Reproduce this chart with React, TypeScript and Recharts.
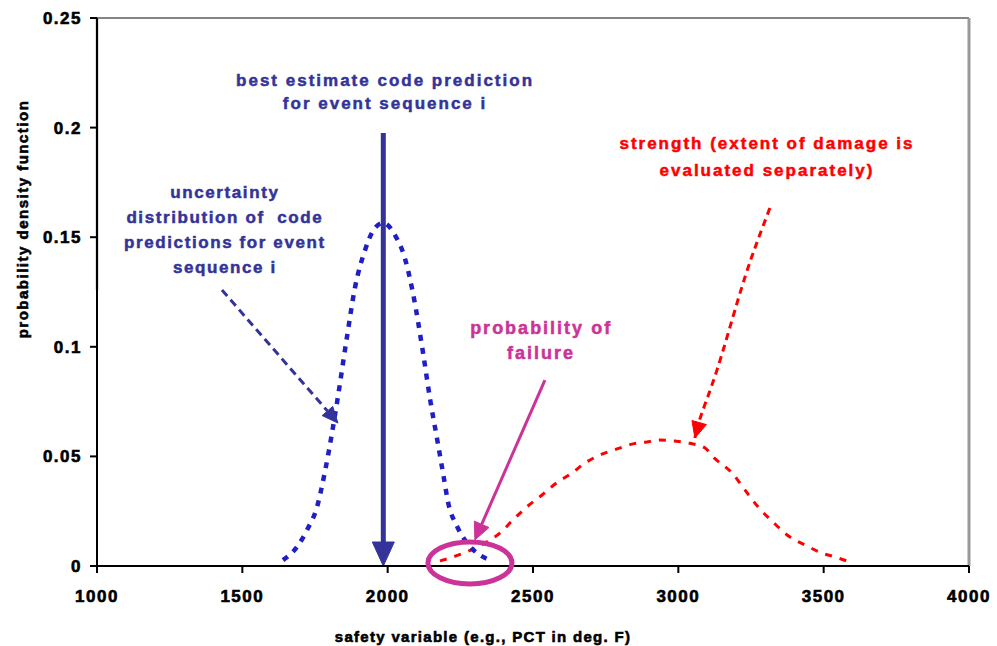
import { LineChart, Line, XAxis, YAxis, ReferenceLine, ReferenceDot } from "recharts";

const FONT = "'Liberation Sans', Arial, sans-serif";
const NAVY = "#333399";
const MAGENTA = "#cc3399";
const RED = "#ff0000";

const X_TICKS = [1000, 1500, 2000, 2500, 3000, 3500, 4000];
const Y_TICKS = [0, 0.05, 0.1, 0.15, 0.2, 0.25];

// uncertainty distribution of code predictions (PCT, deg F)
const predictionT = [1640, 1688, 1726, 1757, 1784, 1826, 1860, 1888, 1922, 1950, 1984, 2025, 2060, 2087, 2122, 2146, 2170, 2191, 2208, 2239, 2283, 2345];
const predictionPdf = [0.0027, 0.0087, 0.0173, 0.0269, 0.0429, 0.0748, 0.1045, 0.1273, 0.144, 0.153, 0.1565, 0.151, 0.14, 0.1245, 0.097, 0.076, 0.058, 0.042, 0.029, 0.018, 0.009, 0.003];

// strength distribution
const strengthT = [2180, 2235, 2335, 2386, 2431, 2479, 2531, 2576, 2634, 2679, 2737, 2789, 2841, 2892, 2937, 2989, 3040, 3092, 3126, 3185, 3229, 3274, 3326, 3384, 3436, 3494, 3539, 3591];
const strengthPdf = [0.0023, 0.0046, 0.0105, 0.015, 0.021, 0.027, 0.0324, 0.0374, 0.0424, 0.047, 0.051, 0.0534, 0.0556, 0.0566, 0.0575, 0.057, 0.056, 0.0538, 0.049, 0.0424, 0.0347, 0.027, 0.02, 0.0132, 0.0096, 0.0059, 0.0041, 0.0018];

// curved pointer from the strength note down to the curve
const strengthPointerT = [3315, 3257, 3202, 3133, 3081, 3057];
const strengthPointerPdf = [0.1633, 0.1427, 0.12, 0.0894, 0.0698, 0.0584];

// best estimate code prediction
const bestEstimateT = 1985;
const bestEstimateTop = 0.1975;

// straight pointers: [from, to]
const uncertaintyPointer = [{ x: 1430, y: 0.1259 }, { x: 1829, y: 0.0652 }];
const failurePointer = [{ x: 2541, y: 0.0848 }, { x: 2300, y: 0.0119 }];
const failureRegion = { x: 2283, y: 0.0014 };

const bestNote = ["best estimate code prediction", "for event sequence i"];
const uncertaintyNote = ["uncertainty", "distribution of  code", "predictions for event", "sequence i"];
const failureNote = ["probability of", "failure"];
const strengthNote = ["strength (extent of damage is", "evaluated separately)"];

const toRows = (xs: number[], ys: number[]) => xs.map((x, i) => ({ x, y: ys[i] }));

const predictionData = toRows(predictionT, predictionPdf);
const strengthData = toRows(strengthT, strengthPdf);
const strengthPointerData = toRows(strengthPointerT, strengthPointerPdf);

function head(x1: number, y1: number, x2: number, y2: number, len: number, half: number) {
  const d = Math.hypot(x2 - x1, y2 - y1) || 1;
  const ux = (x2 - x1) / d;
  const uy = (y2 - y1) / d;
  const bx = x2 - ux * len;
  const by = y2 - uy * len;
  return {
    base: [bx, by],
    points: `${x2},${y2} ${bx - uy * half},${by + ux * half} ${bx + uy * half},${by - ux * half}`,
  };
}

const arrow =
  (color: string, width: number, len: number, half: number, dash?: string, showLine = true) =>
  (p: any) => {
    const { x1, y1, x2, y2 } = p;
    const h = head(x1, y1, x2, y2, len, half);
    return (
      <g>
        {showLine && (
          <line x1={x1} y1={y1} x2={h.base[0]} y2={h.base[1]} stroke={color} strokeWidth={width} strokeDasharray={dash} />
        )}
        <polygon points={h.points} fill={color} stroke={color} strokeWidth={1} strokeLinejoin="round" />
      </g>
    );
  };

// heavier text: bold face plus a thin outline in the same colour
const note =
  (lines: string[], color: string, size: number, gap: number, spacing: number) =>
  (p: any) => (
    <text
      x={p.cx}
      y={p.cy}
      fill={color}
      stroke={color}
      strokeWidth={0.5}
      fontSize={size}
      fontWeight="bold"
      fontFamily={FONT}
      textAnchor="middle"
      letterSpacing={spacing}
      style={{ whiteSpace: "pre" }}
    >
      {lines.map((l, i) => (
        <tspan key={i} x={p.cx} dy={i === 0 ? "0.35em" : gap}>
          {l}
        </tspan>
      ))}
    </text>
  );

const ellipse = (p: any) => <ellipse cx={p.cx} cy={p.cy} rx={42} ry={21} fill="none" stroke={MAGENTA} strokeWidth={5} />;

const tickStyle = { fill: "#000", stroke: "#000", strokeWidth: 0.6, fontSize: 17, fontWeight: "bold", fontFamily: FONT, letterSpacing: 1.5 };

export default function App() {
  return (
    <div style={{ position: "absolute", left: 0, top: 0, background: "#fff" }}>
      <LineChart width={997} height={646} margin={{ top: 18, right: 28, bottom: 0, left: 0 }}>
        <XAxis
          dataKey="x"
          type="number"
          domain={[1000, 4000]}
          ticks={X_TICKS}
          allowDataOverflow
          height={80}
          tickSize={7}
          tickMargin={17}
          axisLine={{ stroke: "#000", strokeWidth: 2 }}
          tickLine={{ stroke: "#000", strokeWidth: 2 }}
          tick={tickStyle}
          label={{
            content: (p: any) => (
              <text
                x={p.viewBox.x + 386}
                y={p.viewBox.y + 70}
                textAnchor="middle"
                dominantBaseline="central"
                fontSize={15}
                fontWeight="bold"
                fontFamily={FONT}
                letterSpacing={1.3}
                fill="#000"
                stroke="#000"
                strokeWidth={0.6}
              >
                safety variable (e.g., PCT in deg. F)
              </text>
            ),
          }}
        />
        <YAxis
          type="number"
          domain={[0, 0.25]}
          ticks={Y_TICKS}
          allowDataOverflow
          width={97}
          tickSize={7}
          tickMargin={8}
          axisLine={{ stroke: "#000", strokeWidth: 2 }}
          tickLine={{ stroke: "#000", strokeWidth: 2 }}
          tick={tickStyle}
          label={{
            content: (p: any) => {
              const cx = p.viewBox.x + 22;
              const cy = p.viewBox.y + 201;
              return (
                <text
                  x={cx}
                  y={cy}
                  transform={`rotate(-90 ${cx} ${cy})`}
                  textAnchor="middle"
                  dominantBaseline="central"
                  fontSize={15}
                  fontWeight="bold"
                  fontFamily={FONT}
                  letterSpacing={1.5}
                  fill="#000"
                  stroke="#000"
                  strokeWidth={0.6}
                >
                  probability density function
                </text>
              );
            },
          }}
        />

        {/* plot frame */}
        <ReferenceLine y={0.25} stroke="#858585" strokeWidth={2} />
        <ReferenceLine x={4000} stroke="#999" strokeWidth={3} />
        <ReferenceLine segment={[{ x: 1000, y: 0.126 }, { x: 1000, y: 0.25 }]} stroke="#858585" strokeWidth={2.5} />

        <Line data={strengthData} dataKey="y" type="monotone" stroke={RED} strokeWidth={3} strokeDasharray="7 8" dot={false} activeDot={false} isAnimationActive={false} />
        <Line data={predictionData} dataKey="y" type="monotone" stroke="#1f1fc4" strokeWidth={4.5} strokeDasharray="6 7" dot={false} activeDot={false} isAnimationActive={false} />
        <Line data={strengthPointerData} dataKey="y" type="natural" stroke={RED} strokeWidth={3} strokeDasharray="7 5" dot={false} activeDot={false} isAnimationActive={false} />

        <ReferenceLine
          segment={[{ x: strengthPointerT[4], y: strengthPointerPdf[4] }, { x: strengthPointerT[5], y: strengthPointerPdf[5] }]}
          shape={arrow(RED, 3, 16, 7.5, undefined, false)}
        />
        <ReferenceLine
          segment={[{ x: bestEstimateT, y: bestEstimateTop }, { x: bestEstimateT, y: 0 }]}
          shape={arrow(NAVY, 5, 24, 11)}
        />
        <ReferenceLine segment={uncertaintyPointer} shape={arrow(NAVY, 3, 16, 7, "8 5")} />
        <ReferenceLine segment={failurePointer} shape={arrow(MAGENTA, 3, 17, 8)} />
        <ReferenceDot x={failureRegion.x} y={failureRegion.y} r={0} shape={ellipse} />

        <ReferenceDot x={1991} y={0.2216} r={0} shape={note(bestNote, NAVY, 17, 23, 2)} />
        <ReferenceDot x={1440} y={0.1705} r={0} shape={note(uncertaintyNote, NAVY, 17, 25, 1.6)} />
        <ReferenceDot x={2528} y={0.1085} r={0} shape={note(failureNote, MAGENTA, 18, 25, 2)} />
        <ReferenceDot x={3305} y={0.193} r={0} shape={note(strengthNote, RED, 17, 27, 2)} />
      </LineChart>
    </div>
  );
}
